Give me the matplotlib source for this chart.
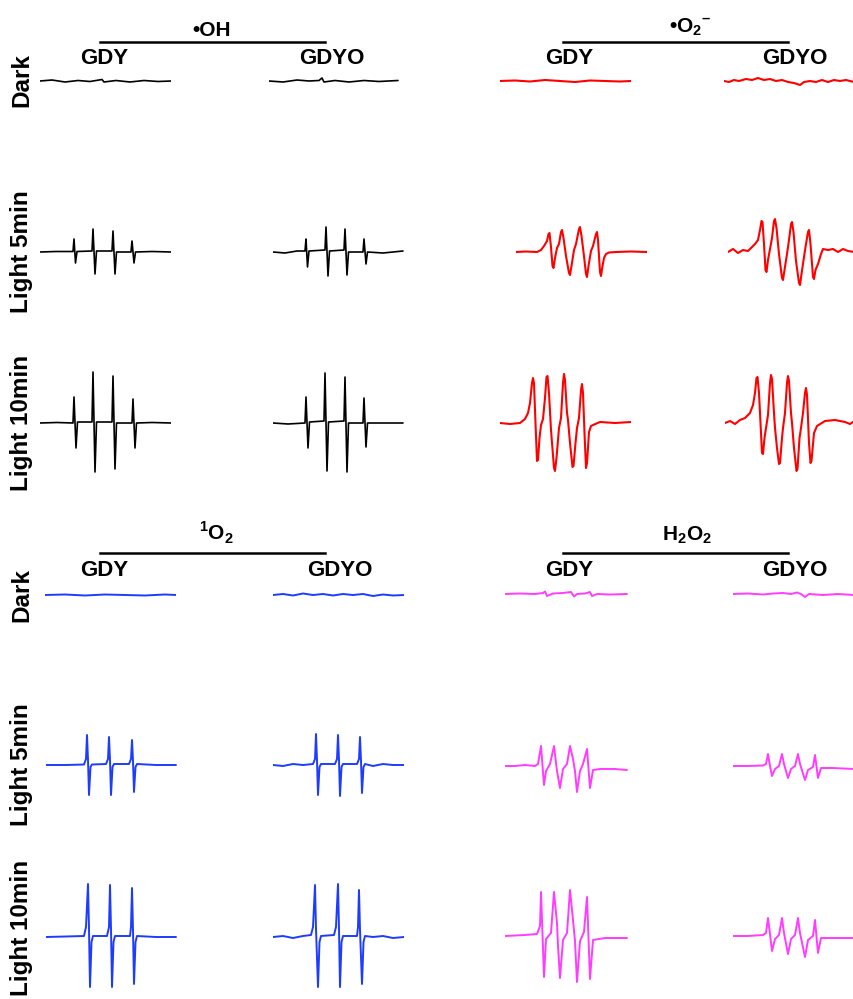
import matplotlib
matplotlib.use('Agg')
import matplotlib.pyplot as plt
from matplotlib.lines import Line2D

plt.rcParams['font.family'] = ['Liberation Sans', 'DejaVu Sans']
plt.rcParams['mathtext.fontset'] = 'custom'
plt.rcParams['mathtext.bf'] = 'Liberation Sans:bold'
plt.rcParams['mathtext.rm'] = 'Liberation Sans:bold'

# EPR traces: (field offset, signal) pairs, signal in a.u. (baseline = 0)
# ---- DMPO-•OH ----
oh_dark_gdy = [(0, 0), (12, 1), (25, -1), (38, 0.5), (50, -0.5), (62, 1.5), (64, -1), (76, 0.5),
               (90, -1), (104, 0.5), (118, -0.5), (131, 0)]
oh_dark_gdyo = [(0, 0), (14, -1), (28, 1), (40, 0), (50, 0.5), (53, 3), (55, -1), (66, 0.5),
                (80, -1), (95, 0.5), (110, -0.5), (129, 0.5)]
oh_5_gdy = [(0, 0), (16, 0.5), (33, 0.5), (34, 13), (35.5, -11), (37, 0.5), (52, 1), (53, 23),
            (55, -22), (56.5, 1), (72, 1), (73, 21), (75, -22), (76.5, 0), (91, 0), (92, 11),
            (94, -11), (95.5, 0), (112, 0.5), (131, 0)]
oh_5_gdyo = [(0, 0), (12, -1), (24, 1), (32, 1), (33, 13), (34.5, -15), (36, 1), (52, 2), (53, 25),
             (55, -24), (56.5, 1), (71, 2), (72, 23), (74, -23), (75.5, 0), (90, 0), (91, 13),
             (93, -12), (94.5, 0), (110, -1), (130, 1)]
oh_10_gdy = [(0, 0), (17, 0.5), (33, 0), (34, 26), (36, -25), (37.5, 1), (52, 1), (53, 51),
             (55, -49), (56.5, 1), (72, 1), (73, 47), (75, -46), (76.5, 0), (92, 0), (93, 24),
             (95, -25), (96.5, 0), (112, 0.5), (131, 0)]
oh_10_gdyo = [(0, 0), (15, -1), (32, 0), (33, 26), (35, -25), (36.5, 1), (51, 2), (52, 50),
              (54, -48), (55.5, 1), (71, 2), (72, 46), (74, -49), (75.5, 0), (90, 0), (91, 25),
              (93, -24), (94.5, 0), (110, 0), (130, 0)]

# ---- DMPO-•O2- ----
o2_dark_gdy = [(0, 0), (15, 0.5), (30, -0.5), (45, 1), (60, 0), (75, -1), (90, 0.5), (105, 0),
               (120, -0.5), (131, 0)]
o2_dark_gdyo = [(0, 0), (5, -1), (10, 1), (15, 0), (22, 2), (28, 1), (34, 3), (40, 1), (46, 2),
                (52, 0), (58, 1), (64, -1), (70, -2), (76, -4), (80, -1), (86, 0), (92, -1),
                (98, 1), (104, -1), (110, 1), (116, 0), (122, 1), (130, -1)]
o2_5_gdy = [(0, 0), (10, 0.5), (21, 0), (25, 2), (28, 6), (31, 11), (32.5, 18), (33.5, 19),
            (35, 5), (36.5, -14), (37.5, -16), (39, -6), (41, 4), (43, 8), (45, 20), (46, 22),
            (47.5, 14), (50, -4), (53, -21), (54, -23), (55.5, -14), (58, 2), (60, 8), (63, 23),
            (64, 25), (65.5, 16), (68, -4), (70, -22), (71, -25), (72.5, -14), (75, 1), (77, 6),
            (80, 18), (81, 20), (82, 12), (84, -20), (85, -24), (86.5, -14), (88, -6), (90, -2),
            (93, -0.5), (100, 0), (115, 0.5), (131, 0)]
o2_5_gdyo = [(0, 0), (5, 3), (10, -1), (15, 2), (20, 1), (24, 5), (27, 8), (30, 12), (32, 22),
             (33.5, 31), (34.5, 30), (36, 8), (37.5, -18), (38.5, -20), (40, -8), (42, 3),
             (44, 14), (46, 31), (47, 33), (48.5, 24), (51, -2), (54, -26), (55, -28),
             (56.5, -18), (59, -2), (61, 12), (63, 28), (64, 30), (65.5, 20), (68, -9),
             (71, -31), (72, -33), (73.5, -22), (76, -5), (78, 8), (80, 20), (81, 22), (82.5, 8),
             (85, -25), (86, -27), (87.5, -18), (90, -12), (93, -2), (95, 3), (100, 2), (105, 3),
             (110, 0), (115, 3), (120, 1), (126, 0)]
o2_10_gdy = [(0, 0), (10, -1), (20, 0), (25, 4), (28, 10), (30, 20), (32, 40), (33, 45), (34, 40),
             (35.5, 0), (37, -38), (38, -37), (39.5, -15), (41, -2), (43, 4), (45, 25),
             (46.5, 46), (47.5, 47), (49, 30), (51, -7), (54, -45), (55, -48), (56.5, -35),
             (59, -5), (61, 5), (63, 40), (64, 49), (65, 43), (67, 10), (68, 3), (70, -20),
             (72.5, -44), (73.5, -43), (75.5, -20), (77, -5), (79, 5), (81, 33), (82, 39),
             (83, 30), (84.5, -10), (86, -45), (87, -40), (89, -9), (91, -3), (93, -2), (100, 1),
             (115, 0), (131, 1)]
o2_10_gdyo = [(0, 0), (5, 2), (10, -1), (15, 3), (20, 5), (25, 10), (28, 18), (30, 30),
              (31.5, 45), (32.5, 46), (34, 30), (37, -30), (38, -31), (39.5, -15), (41, -5),
              (43, 8), (45, 40), (46, 48), (47, 44), (49, 10), (50, -5), (52, -25), (54, -41),
              (55, -40), (57, -15), (58, -5), (60, 10), (62, 40), (63, 47), (64, 42), (66, 10),
              (67, 0), (69, -25), (71.5, -48), (72.5, -46), (74.5, -15), (76, -5), (78, 10),
              (80, 30), (81, 35), (82, 28), (84, -20), (85.5, -40), (86.5, -38), (89, -10),
              (92, -3), (100, 2), (110, 3), (120, 1), (125, -1), (131, 3)]

# ---- TEMP-1O2 ----
s_dark_gdy = [(0, 0), (20, 0.5), (40, -0.5), (60, 0.5), (80, 0), (100, -0.5), (120, 0.5), (131, 0)]
s_dark_gdyo = [(0, 0), (10, 1), (20, -0.5), (30, 1.5), (40, 0), (50, 1), (60, -0.5), (70, 1),
               (80, 0), (90, 1), (100, -1), (110, 0.5), (120, -0.5), (131, 0)]
s_5_gdy = [(0, 0), (20, 0), (38, 0.5), (40, 6), (41, 30), (42, 5), (43, -30), (44.5, -2), (46, 0.5),
           (60, 1), (62, 6), (63, 28), (64, 5), (65, -30), (66.5, -2), (68, 1), (83, 1), (85, 6),
           (86, 25), (87, 4), (88, -27), (89.5, -2), (91, 1), (110, 0), (130, 0)]
s_5_gdyo = [(0, 0), (10, -1), (20, 1), (30, 0), (40, 1), (42, 6), (43, 31), (44, 5), (45, -30),
            (46.5, -2), (48, 1), (62, 1), (64, 6), (65, 30), (66, 5), (67, -31), (68.5, -2),
            (70, 1), (84, 1), (86, 6), (87, 28), (88, 4), (89, -28), (90.5, -2), (92, 1),
            (100, -1), (110, 1), (120, 0), (131, 0)]
s_10_gdy = [(0, 0), (20, 0.5), (38, 1), (40, 10), (42, 53), (43, 8), (44, -50), (45.5, -5),
            (47, 1), (61, 1), (63, 10), (64, 52), (65, 8), (66, -50), (67.5, -5), (69, 1),
            (84, 1), (85, 10), (86, 49), (87, 7), (88, -47), (89.5, -5), (91, 1), (110, 0),
            (130, 0)]
s_10_gdyo = [(0, 0), (10, 1), (20, -1), (30, 1), (38, 2), (40, 10), (42, 52), (43, 8), (45, -50),
             (46.5, -5), (48, 1), (61, 2), (63, 10), (65, 53), (66, 8), (67, -50), (68.5, -5),
             (70, 1), (84, 1), (85, 10), (86, 47), (87, 7), (89, -47), (90.5, -5), (92, 1),
             (100, 0), (110, 1), (120, -1), (131, 0)]

# ---- H2O2 ----
h_dark_gdy = [(0, 0), (15, 0.5), (30, 0), (38, 1), (40, 2.5), (42, -2), (48, 0.5), (58, 1),
              (66, 2), (69, -2.5), (72, 0), (80, 0.5), (85, 2), (87, -2), (92, 0), (105, -0.5),
              (122, 0)]
h_dark_gdyo = [(0, 0), (15, 0.5), (30, -0.5), (40, 0.5), (50, 1), (58, 0), (64, 1.5), (68, 0),
               (72, -3), (76, 0), (90, -1), (105, 0), (121, -1)]
h_5_gdy = [(0, 0), (10, 0), (20, 1), (30, 0), (33, 2), (36, 20), (39, -19), (41, -5), (45, 2),
           (49, 20), (52, -5), (55, -22), (58, -3), (62, 2), (65, 20), (68, 7), (70, -5),
           (72, -26), (75, -5), (78, 2), (82, 17), (85, -22), (88, -4), (95, -3), (110, -3),
           (122, -4)]
h_5_gdyo = [(0, 0), (15, 0), (30, 0.5), (33, 2), (35, 12), (37, 0), (39, -10), (42, -3), (46, 0),
            (49, 12), (51, 2), (55, -12), (58, -3), (62, 0), (65, 12), (67, 2), (72, -14),
            (75, -4), (80, -1), (82, 11), (85, -12), (88, -2), (100, -2), (121, -3)]
h_10_gdy = [(0, 0), (20, 1), (32, 2), (35, 10), (36, 44), (39, -41), (41, -3), (46, 3), (49, 44),
            (52, 13), (53, -10), (55, -42), (58, -4), (62, 3), (65, 46), (68, 16), (70, -5),
            (72, -46), (75, -5), (79, 4), (82, 39), (85, -43), (88, -4), (100, -2), (122, -2)]
h_10_gdyo = [(0, 0), (15, 0), (30, 1), (33, 3), (35, 18), (37, 2), (39, -15), (42, -3), (46, 1),
             (49, 18), (51, 3), (55, -18), (58, -3), (62, 1), (65, 18), (67, 3), (72, -21),
             (75, -4), (80, 0), (82, 16), (85, -17), (88, -2), (100, -2), (121, -2)]

conditions = ['Dark', 'Light 5min', 'Light 10min']
samples = ['GDY', 'GDYO']

# ---- layout (pixels) ----
W, H = 854, 999
fig = plt.figure(figsize=(W / 100, H / 100), dpi=100)
HALF = 60


def draw(trace, x0, base, color, lw):
    ax = fig.add_axes([x0 / W, (H - base - HALF) / H, 131 / W, 2 * HALF / H])
    ax.set_xlim(0, 131)
    ax.set_ylim(-HALF, HALF)
    ax.axis('off')
    ax.plot([p[0] for p in trace], [p[1] for p in trace], color=color, lw=lw,
            solid_joinstyle='round', solid_capstyle='round')


# per block: traces by condition (GDY, GDYO), colour, line width,
# x start of each trace by condition, baseline of each condition
blocks = [
    ([(oh_dark_gdy, oh_dark_gdyo), (oh_5_gdy, oh_5_gdyo), (oh_10_gdy, oh_10_gdyo)],
     'black', 1.2, [(40, 269), (40, 273), (40, 273)], (81, 252, 423)),
    ([(o2_dark_gdy, o2_dark_gdyo), (o2_5_gdy, o2_5_gdyo), (o2_10_gdy, o2_10_gdyo)],
     '#ff0000', 1.5, [(500, 724), (516, 728), (500, 725)], (81, 252, 423)),
    ([(s_dark_gdy, s_dark_gdyo), (s_5_gdy, s_5_gdyo), (s_10_gdy, s_10_gdyo)],
     '#1e3cff', 1.4, [(45, 273), (46, 273), (46, 273)], (595, 765, 937)),
    ([(h_dark_gdy, h_dark_gdyo), (h_5_gdy, h_5_gdyo), (h_10_gdy, h_10_gdyo)],
     '#ff3cff', 1.4, [(505, 733), (505, 733), (505, 733)], (594, 766, 936)),
]

for traces, color, lw, starts, bases in blocks:
    for (t_gdy, t_gdyo), (xa, xb), base in zip(traces, starts, bases):
        draw(t_gdy, xa, base, color, lw)
        draw(t_gdyo, xb, base, color, lw)

# ---- text ----
fs_lab = 16


def ftext(x, y, s, **kw):
    fig.text(x / W, 1 - y / H, s, ha='center', va='center', fontweight='bold', **kw)


def header(xc, y, s, x1, x2, yl):
    ftext(xc, y, s, fontsize=15)
    fig.add_artist(Line2D([x1 / W, x2 / W], [1 - yl / H, 1 - yl / H], color='black', lw=1.8))


header(212, 31, '•OH', 100, 325, 42)
header(690, 27, '•O$_\\mathbf{2}$$^{\\mathbf{\u2013}}$', 563, 788, 42)
header(216, 533, '$^\\mathbf{1}$O$_\\mathbf{2}$', 100, 325, 553)
header(687, 535, 'H$_\\mathbf{2}$O$_\\mathbf{2}$', 563, 788, 553)

for xg, xo, y in [(104, 332, 58), (569, 795, 58), (104, 340, 570), (569, 795, 570)]:
    ftext(xg, y, samples[0], fontsize=fs_lab)
    ftext(xo, y, samples[1], fontsize=fs_lab)

for y, lab in zip([80, 252, 423, 595, 765, 928], conditions * 2):
    ftext(22, y, lab, fontsize=17.5, rotation=90)

fig.savefig('out.png', dpi=100)
